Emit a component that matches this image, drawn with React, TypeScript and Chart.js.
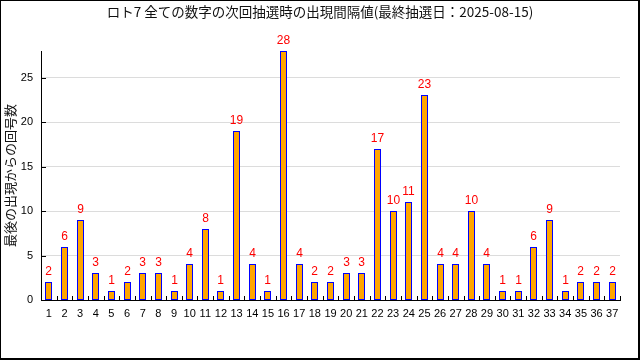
import React, { useEffect, useRef } from "react";
import { Chart, registerables } from "chart.js";

Chart.register(...registerables);

const categories: string[] = Array.from({ length: 37 }, (_, i) => String(i + 1));
const intervals: number[] = [
  2, 6, 9, 3, 1, 2, 3, 3, 1, 4, 8, 1, 19, 4, 1, 28, 4, 2, 2, 3, 3, 17, 10, 11, 23,
  4, 4, 10, 4, 1, 1, 6, 9, 1, 2, 2, 2,
];
const titleText = "ロト7 全ての数字の次回抽選時の出現間隔値(最終抽選日：2025-08-15)";
const yTitle = "最後の出現からの回号数";

const tickFont = "'Liberation Sans', Arial, sans-serif";
const labelFont = "'Liberation Sans Narrow', 'Liberation Sans', sans-serif";
const cjkFont = "'Noto Sans CJK JP', 'Noto Sans', sans-serif";

const snapPlugin = {
  id: "snapBars",
  beforeDatasetsDraw(chart: any) {
    const meta = chart.getDatasetMeta(0);
    meta.data.forEach((bar: any) => {
      bar.x = Math.floor(bar.x) + 0.5;
      bar.y = Math.round(bar.y);
      bar.base = Math.round(bar.base);
    });
  },
};

const framePlugin = {
  id: "frame",
  afterDraw(chart: any) {
    const { ctx, width, height, chartArea } = chart;
    ctx.save();
    ctx.fillStyle = "#000";
    ctx.fillRect(0, 0, width, 1);
    ctx.fillRect(0, 0, 1, height);
    ctx.fillRect(width - 2, 0, 2, height);
    ctx.fillRect(0, height - 2, width, 2);
    // title centred on the full canvas
    ctx.fillStyle = "#111";
    ctx.font = `13.5px ${cjkFont}`;
    ctx.textAlign = "center";
    ctx.textBaseline = "middle";
    ctx.fillText(titleText, width / 2, 12);
    const x = chart.scales.x;
    const y = chart.scales.y;
    const step = x.getPixelForValue(1) - x.getPixelForValue(0);
    ctx.strokeStyle = "#000";
    ctx.lineWidth = 1;
    ctx.beginPath();
    for (let i = 0; i < categories.length; i++) {
      const bx = Math.round(x.getPixelForValue(i) + step / 2) + 0.5;
      ctx.moveTo(bx, chartArea.bottom);
      ctx.lineTo(bx, chartArea.bottom - 4);
    }
    for (const t of y.ticks) {
      const py = Math.round(y.getPixelForValue(t.value)) + 0.5;
      ctx.moveTo(chartArea.left, py);
      ctx.lineTo(chartArea.left + 5, py);
    }
    ctx.stroke();
    ctx.restore();
  },
};

const labelPlugin = {
  id: "valueLabels",
  afterDatasetsDraw(chart: any) {
    const { ctx } = chart;
    const meta = chart.getDatasetMeta(0);
    ctx.save();
    ctx.fillStyle = "#ff0000";
    ctx.font = `12px ${labelFont}`;
    ctx.textAlign = "center";
    ctx.textBaseline = "alphabetic";
    meta.data.forEach((bar: any, i: number) => {
      ctx.fillText(String(intervals[i]), bar.x, bar.y - 7);
    });
    ctx.restore();
  },
};

export default function App() {
  const ref = useRef<HTMLCanvasElement | null>(null);
  useEffect(() => {
    document.body.style.margin = "0";
    const canvas = ref.current;
    if (!canvas) return;
    const chart = new Chart(canvas, {
      type: "bar",
      data: {
        labels: categories,
        datasets: [
          {
            data: intervals,
            backgroundColor: "#ffa500",
            borderColor: "#0000ff",
            borderWidth: 1,
            borderSkipped: false,
            inflateAmount: 0,
            barThickness: 7,
          },
        ],
      },
      options: {
        animation: false,
        responsive: false,
        devicePixelRatio: 1,
        layout: { padding: { left: 0, right: 20, top: 51, bottom: 0 } },
        plugins: {
          legend: { display: false },
          tooltip: { enabled: false },
          title: { display: false },
        },
        scales: {
          x: {
            grid: { display: false, drawTicks: false },
            border: { color: "#000", width: 1 },
            ticks: {
              color: "#000",
              font: { family: tickFont, size: 11 },
              padding: 7,
              maxRotation: 0,
              autoSkip: false,
            },
            afterFit(scale: any) {
              scale.height = 60;
            },
          },
          y: {
            min: 0,
            max: 28,
            grid: { color: "#dcdcdc", drawTicks: false },
            border: { color: "#000", width: 1 },
            ticks: {
              stepSize: 5,
              includeBounds: false,
              color: "#000",
              font: { family: tickFont, size: 11 },
              padding: 8,
            },
            title: {
              display: true,
              text: yTitle,
              color: "#111",
              font: { family: cjkFont, size: 13 },
              padding: { top: 2, bottom: 0 },
            },
            afterFit(scale: any) {
              scale.width = 41;
            },
          },
        },
      },
      plugins: [snapPlugin, labelPlugin, framePlugin],
    });
    return () => chart.destroy();
  }, []);
  return <canvas ref={ref} width={640} height={360} style={{ display: "block" }} />;
}
